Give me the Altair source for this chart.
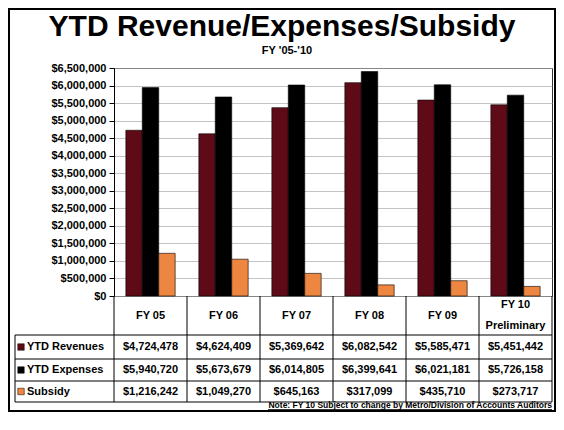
import altair as alt
import pandas as pd

# ---------------- data ----------------
categories = ["FY 05", "FY 06", "FY 07", "FY 08", "FY 09", "FY 10"]
header_labels = ["FY 05", "FY 06", "FY 07", "FY 08", "FY 09", "FY 10\nPreliminary"]
series = ["YTD Revenues", "YTD Expenses", "Subsidy"]
revenues = [4724478, 4624409, 5369642, 6082542, 5585471, 5451442]
expenses = [5940720, 5673679, 6014805, 6399641, 6021181, 5726158]
subsidy = [1216242, 1049270, 645163, 317099, 435710, 273717]
y_ticks = list(range(0, 6500001, 500000))
title_text = "YTD Revenue/Expenses/Subsidy"
subtitle_text = "FY '05-'10"
note_text = "Note: FY 10 Subject to change by Metro/Division of Accounts Auditors"

# ---------------- style / layout ----------------
colors = ["#5e0b17", "#000000", "#ec8640"]
FONT = "Liberation Sans"
W, H = 438, 228
row_lines = [267, 291, 313, 334]          # table row bottoms (px below plot top)
row_centers = [279, 302, 323.5]
header_center = (H + row_lines[0]) / 2
legend_left = -99
LH = 21

values = {"YTD Revenues": revenues, "YTD Expenses": expenses, "Subsidy": subsidy}
records = []
for s in series:
    for c, v in zip(categories, values[s]):
        records.append({"cat": c, "series": s, "value": v, "label": f"${v:,}"})
df = pd.DataFrame(records)
df_header = pd.DataFrame({"cat": categories, "text": header_labels})
df_header["multi"] = df_header["text"].str.contains("\n")
dummy = pd.DataFrame({"a": [0]})

xscale = alt.Scale(domain=categories, paddingInner=0, paddingOuter=0)
color = alt.Color("series:N", scale=alt.Scale(domain=series, range=colors), legend=None)

frame = alt.Chart(dummy).mark_rect(fillOpacity=0, stroke="black", strokeWidth=2).encode(
    x=alt.value(-105), x2=alt.value(W + 3), y=alt.value(-59), y2=alt.value(343)
)

bars = alt.Chart(df).mark_bar(stroke="black", strokeWidth=0.6).encode(
    x=alt.X("cat:N", scale=xscale, axis=None),
    xOffset=alt.XOffset("series:N", scale=alt.Scale(domain=series, paddingOuter=0.72, paddingInner=0)),
    y=alt.Y(
        "value:Q",
        scale=alt.Scale(domain=[0, 6500000], nice=False),
        axis=alt.Axis(values=y_ticks, format="$,.0f", title=None),
    ),
    color=color,
)

title = alt.Chart(dummy).mark_text(
    font=FONT, fontSize=30, fontWeight="bold", align="center", baseline="alphabetic"
).encode(x=alt.value(168), y=alt.value(-32), text=alt.value(title_text))

subtitle = alt.Chart(dummy).mark_text(
    font=FONT, fontSize=11, fontWeight="bold", align="center", baseline="alphabetic"
).encode(x=alt.value(173), y=alt.value(-14), text=alt.value(subtitle_text))

header_single = alt.Chart(df_header[~df_header["multi"]]).mark_text(
    font=FONT, fontSize=11, fontWeight="bold", align="center", baseline="middle",
).encode(x=alt.X("cat:N", scale=xscale, axis=None), y=alt.value(header_center), text="text:N")

header_multi = alt.Chart(df_header[df_header["multi"]]).mark_text(
    font=FONT, fontSize=11, fontWeight="bold", align="center", baseline="middle",
    lineBreak="\n", lineHeight=LH, dy=-LH / 2,
).encode(x=alt.X("cat:N", scale=xscale, axis=None), y=alt.value(header_center), text="text:N")

layers = [frame, bars, title, subtitle, header_single, header_multi]

for s, yc in zip(series, row_centers):
    sub = df[df["series"] == s]
    layers.append(
        alt.Chart(sub).mark_text(
            font=FONT, fontSize=11, fontWeight="bold", align="center", baseline="middle"
        ).encode(x=alt.X("cat:N", scale=xscale, axis=None), y=alt.value(yc), text="label:N")
    )
    leg = sub.iloc[[0]]
    layers.append(
        alt.Chart(leg).mark_square(size=42, stroke="black", strokeWidth=0.5, opacity=1).encode(
            x=alt.value(-93), y=alt.value(yc), color=color
        )
    )
    layers.append(
        alt.Chart(leg).mark_text(
            font=FONT, fontSize=11, fontWeight="bold", align="left", baseline="middle"
        ).encode(x=alt.value(-87), y=alt.value(yc), text="series:N")
    )

# table grid
for yv in row_lines:
    layers.append(
        alt.Chart(dummy).mark_rule(color="black", strokeWidth=1).encode(
            x=alt.value(legend_left), x2=alt.value(W), y=alt.value(yv)
        )
    )
layers.append(
    alt.Chart(df_header).mark_rule(color="black", strokeWidth=1).encode(
        x=alt.X("cat:N", scale=xscale, axis=None, bandPosition=0),
        y=alt.value(H), y2=alt.value(row_lines[-1]),
    )
)
layers.append(
    alt.Chart(dummy).mark_rule(color="black", strokeWidth=1).encode(
        x=alt.value(W), y=alt.value(H), y2=alt.value(row_lines[-1])
    )
)
layers.append(
    alt.Chart(dummy).mark_rule(color="black", strokeWidth=1).encode(
        x=alt.value(legend_left), y=alt.value(row_lines[0]), y2=alt.value(row_lines[-1])
    )
)

# note
layers.append(
    alt.Chart(dummy).mark_text(
        font=FONT, fontSize=8.5, fontWeight="bold", align="right", baseline="alphabetic"
    ).encode(x=alt.value(W), y=alt.value(340), text=alt.value(note_text))
)
layers.append(
    alt.Chart(dummy).mark_rule(color="black", strokeWidth=0.8).encode(
        x=alt.value(W - 284), x2=alt.value(W), y=alt.value(341.5)
    )
)

chart = (
    alt.layer(*layers)
    .properties(width=W, height=H, padding=0, background="white")
    .configure_view(stroke="#333333", strokeWidth=1)
    .configure_axis(
        labelFont=FONT, labelFontSize=11, labelFontWeight="bold", labelColor="black",
        tickColor="black", tickSize=5, domainColor="black", labelPadding=3,
        gridColor="#aaaaaa", gridWidth=0.7,
    )
)

chart.save("out.html", embed_options={"renderer": "svg", "actions": False})
